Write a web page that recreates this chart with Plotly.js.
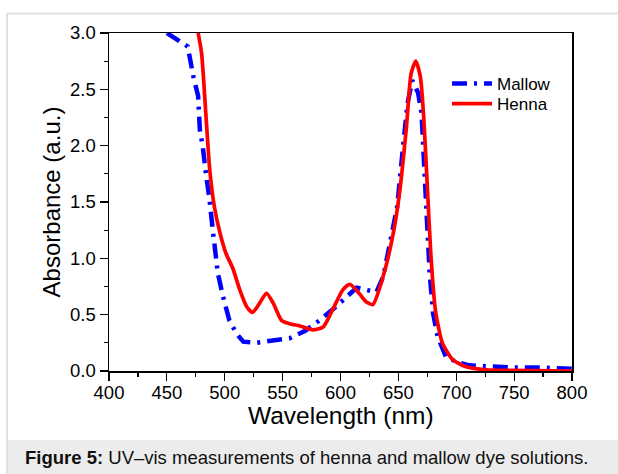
<!DOCTYPE html>
<html>
<head>
<meta charset="utf-8">
<script src="https://cdn.plot.ly/plotly-3.0.1.min.js"></script>
<style>
  html, body { margin: 0; padding: 0; background: #ffffff; }
  #chart { width: 618px; height: 474px; }
</style>
</head>
<body>
<div id="chart"></div>
<script>
// Wavelength (nm) and absorbance (a.u.)
const mallowWavelength = [450, 468, 473, 477, 478.5, 481, 484, 486.5, 490, 494, 498.5, 504, 510, 516, 527, 545, 556, 570, 582, 596, 614, 622, 631, 637, 649, 654, 658, 662, 667, 670, 672.5, 674.5, 677, 680, 684, 691, 700, 711, 728, 750, 775, 800];
const mallowAbsorbance = [3.0, 2.88, 2.61, 2.44, 2.14, 1.99, 1.73, 1.55, 1.22, 0.87, 0.66, 0.45, 0.335, 0.26, 0.25, 0.275, 0.29, 0.36, 0.45, 0.57, 0.74, 0.72, 0.70, 0.84, 1.46, 1.99, 2.38, 2.58, 2.47, 2.29, 1.84, 1.46, 0.87, 0.51, 0.30, 0.13, 0.08, 0.05, 0.04, 0.03, 0.03, 0.02];

const hennaWavelength = [477, 480, 484, 487, 491, 496, 501, 507, 513, 519, 524, 530, 536, 542, 549, 556, 565, 576, 585, 593, 602, 608, 616, 622, 628, 636, 645, 651, 657, 661, 665, 669, 672, 675, 678, 682, 688, 697, 708, 726, 750, 800];
const hennaAbsorbance = [3.0, 2.82, 2.23, 1.79, 1.46, 1.22, 1.045, 0.91, 0.72, 0.57, 0.52, 0.60, 0.69, 0.60, 0.45, 0.42, 0.40, 0.365, 0.39, 0.54, 0.72, 0.77, 0.69, 0.615, 0.59, 0.81, 1.19, 1.58, 2.17, 2.64, 2.75, 2.61, 2.23, 1.64, 1.045, 0.54, 0.25, 0.10, 0.04, 0.01, 0.005, 0.0];

const seriesNames = ["Mallow", "Henna"];
const xTitle = "Wavelength (nm)";
const yTitle = "Absorbance (a.u.)";
const caption = "<b>Figure 5:</b> UV\u2013vis measurements of henna and mallow dye solutions.";

const FONT = "Liberation Sans, Arial, sans-serif";

const traces = [
  {
    x: mallowWavelength, y: mallowAbsorbance, name: seriesNames[0], legend: "legend",
    type: "scatter", mode: "lines",
    line: { color: "rgb(0,0,255)", width: 4.5, dash: "15px,7px,3px,7px", shape: "linear" }
  },
  {
    x: hennaWavelength, y: hennaAbsorbance, name: seriesNames[1], legend: "legend2",
    type: "scatter", mode: "lines",
    line: { color: "rgb(255,0,0)", width: 3.7, shape: "spline", smoothing: 0.6 }
  }
];

// plot area: x 109..572 px, y 33..371 px
const PX = (px) => (px - 109) / 463;
const PY = (py) => (371 - py) / 338;

const legendBase = {
  xanchor: "left", yanchor: "top",
  bgcolor: "rgba(0,0,0,0)", borderwidth: 0,
  font: { family: FONT, size: 17, color: "#000000" },
  itemwidth: 40
};

const layout = {
  width: 618, height: 474,
  margin: { l: 109, r: 46, t: 33, b: 103 },
  paper_bgcolor: "#ffffff",
  plot_bgcolor: "#ffffff",
  font: { family: FONT, color: "#000000", size: 18 },
  showlegend: true,
  legend: Object.assign({}, legendBase, { x: PX(447), y: PY(66) }),
  legend2: Object.assign({}, legendBase, { x: PX(447), y: PY(86) }),
  xaxis: {
    range: [400, 800], dtick: 50, tick0: 400,
    showline: true, linecolor: "#000000", linewidth: 1.5, mirror: true,
    ticks: "outside", ticklen: 8, tickwidth: 1.2, tickcolor: "#000000",
    minor: { dtick: 25, ticks: "outside", ticklen: 4, tickwidth: 1.2, tickcolor: "#000000", showgrid: false },
    showgrid: false, zeroline: false,
    tickfont: { family: FONT, size: 18.5, color: "#000000" },
    ticklabelstandoff: -4,
    automargin: false
  },
  yaxis: {
    range: [0, 3], dtick: 0.5, tick0: 0, tickformat: ".1f",
    showline: true, linecolor: "#000000", linewidth: 1.5, mirror: true,
    ticks: "outside", ticklen: 8, tickwidth: 1.2, tickcolor: "#000000",
    minor: { dtick: 0.25, ticks: "outside", ticklen: 4, tickwidth: 1.2, tickcolor: "#000000", showgrid: false },
    showgrid: false, zeroline: false,
    tickfont: { family: FONT, size: 18.5, color: "#000000" },
    title: { text: yTitle, font: { family: FONT, size: 24, color: "#000000" }, standoff: 2 },
    automargin: false
  },
  shapes: [
    // caption band
    { type: "rect", xref: "paper", yref: "paper", x0: PX(7), x1: PX(620), y0: PY(440), y1: PY(476),
      fillcolor: "#ececec", line: { width: 0 }, layer: "below" },
    // outer frame lines
    { type: "line", xref: "paper", yref: "paper", x0: PX(7), x1: PX(620), y0: PY(13.5), y1: PY(13.5),
      line: { color: "#e0e0e0", width: 2 } },
    { type: "line", xref: "paper", yref: "paper", x0: PX(7), x1: PX(7), y0: PY(13.5), y1: PY(476),
      line: { color: "#e0e0e0", width: 2 } }
  ],
  annotations: [
    // x-axis title
    { xref: "paper", yref: "paper", x: 0.5, y: PY(400), xanchor: "center", yanchor: "top",
      text: xTitle, showarrow: false, font: { family: FONT, size: 24.5, color: "#000000" } },
    // figure caption
    { xref: "paper", yref: "paper", x: PX(23), y: PY(458), xanchor: "left", yanchor: "middle",
      text: caption, showarrow: false, font: { family: FONT, size: 18.5, color: "#111111" } }
  ]
};

Plotly.newPlot("chart", traces, layout, { staticPlot: true, displayModeBar: false });
</script>
</body>
</html>
